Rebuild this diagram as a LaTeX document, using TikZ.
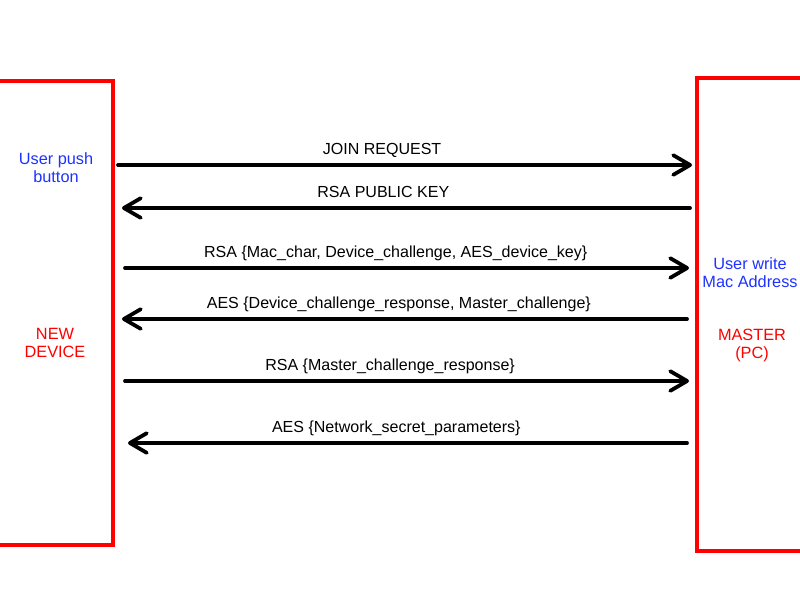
\documentclass[tikz,border=0pt]{standalone}
\usepackage{fontspec}
\setmainfont{Liberation Sans}
\usetikzlibrary{arrows.meta}
\definecolor{userblue}{RGB}{30,50,255}
\definecolor{boxred}{RGB}{255,0,0}

\begin{document}
\begin{tikzpicture}[x=0.025cm,y=-0.025cm]
            \tikzset{
            msg edge/.style={line width=2.7pt,line cap=round,
                -{Straight Barb[length=12pt,width=14pt,line join=round,line cap=round]}},
            msg label/.style={anchor=base,yshift=7.6pt,inner sep=0,font=\fontsize{11.4}{13}\selectfont},
            side text/.style={align=center,font=\fontsize{11.6}{12.8}\selectfont}
            }
            \useasboundingbox (0,0) rectangle (800,600);
            % the two parties
            \draw[boxred,line width=3pt] (-20,81) rectangle (113,545);
            \draw[boxred,line width=3pt] (697,78) rectangle (830,551);
            \node[side text,text=userblue] (push) at (56,168) {User push\\button};
            \node[side text,text=boxred] (dev) at (55,343) {NEW\\DEVICE};
            \node[side text,text=userblue] (mac) at (750,273) {User write\\Mac Address};
            \node[side text,text=boxred] (mst) at (752,345) {MASTER\\(PC)};

            % ends of the messages
            \coordinate (D1) at (118,165); \coordinate (M1) at (692,165);
            \coordinate (D2) at (122,208); \coordinate (M2) at (690,208);
            \coordinate (D3) at (125,268); \coordinate (M3) at (689,268);
            \coordinate (D4) at (122,319); \coordinate (M4) at (687,319);
            \coordinate (D5) at (125,381); \coordinate (M5) at (689,381);
            \coordinate (D6) at (128,443); \coordinate (M6) at (687,443);

            \path
            (D1) edge[msg edge] node[msg label,pos=0.46] {JOIN REQUEST} (M1)
            (M2) edge[msg edge] node[msg label,pos=0.54] {RSA PUBLIC KEY} (D2)
            (D3) edge[msg edge] node[msg label,pos=0.48] {RSA \{Mac\_char, Device\_challenge, AES\_device\_key\}} (M3)
            (M4) edge[msg edge] node[msg label,pos=0.51] {AES \{Device\_challenge\_response, Master\_challenge\}} (D4)
            (D5) edge[msg edge] node[msg label,pos=0.47] {RSA \{Master\_challenge\_response\}} (M5)
            (M6) edge[msg edge] node[msg label,pos=0.52] {AES \{Network\_secret\_parameters\}} (D6)
            ;
        \end{tikzpicture}
\end{document}
